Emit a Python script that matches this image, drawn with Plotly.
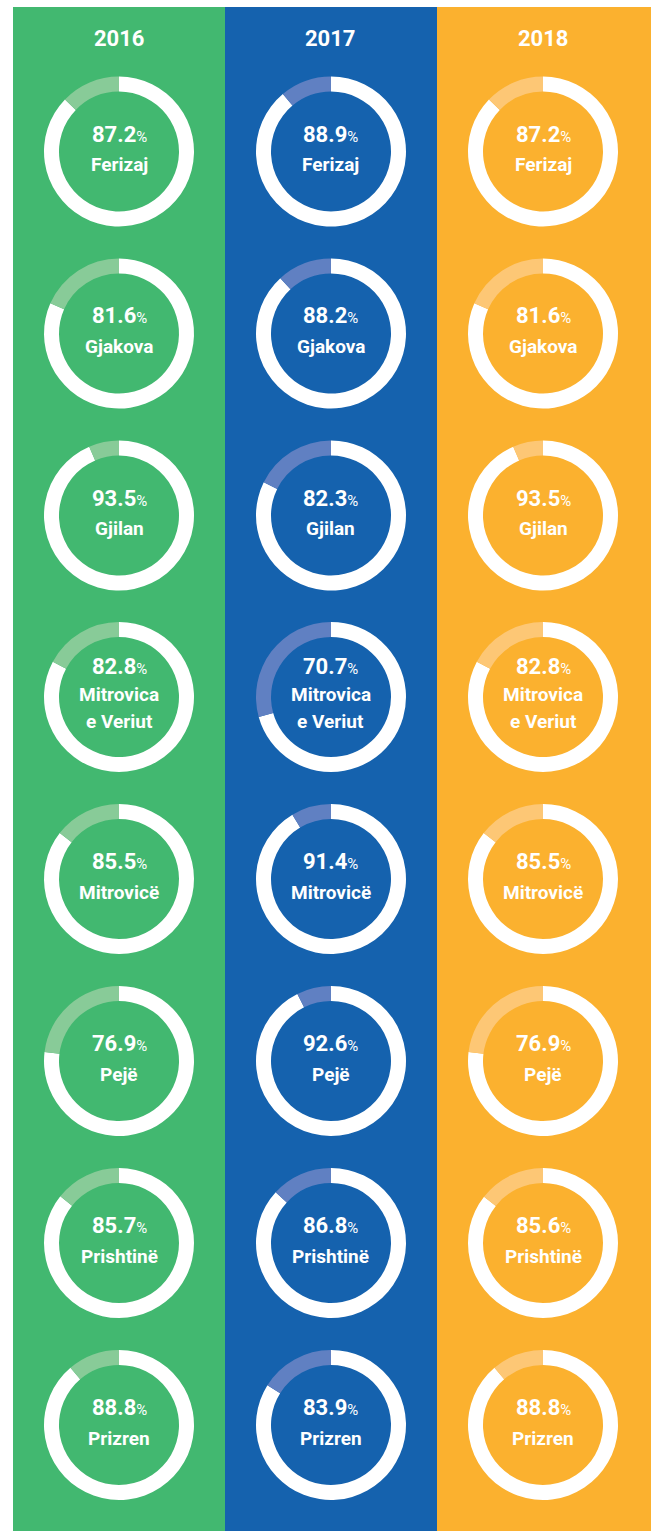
import plotly.graph_objects as go

years = ["2016", "2017", "2018"]
cities = ["Ferizaj", "Gjakova", "Gjilan", "Mitrovica<br>e Veriut", "Mitrovicë", "Pejë", "Prishtinë", "Prizren"]
values_2016 = [87.2, 81.6, 93.5, 82.8, 85.5, 76.9, 85.7, 88.8]
values_2017 = [88.9, 88.2, 82.3, 70.7, 91.4, 92.6, 86.8, 83.9]
values_2018 = [87.2, 81.6, 93.5, 82.8, 85.5, 76.9, 85.6, 88.8]
series = [values_2016, values_2017, values_2018]

bg_colors = ["#42B870", "#1562AE", "#FBB12F"]
light_colors = ["#88CB98", "#6080C2", "#FDC775"]

W, H = 651, 1531
col_left = [13, 225, 437]
col_right = [225, 437, 651]
col_cx = [119, 331, 543]
row_cy = [151.5, 333.5, 515.5, 697, 879, 1061, 1243, 1425]
R = 75

FONT = "Roboto, Liberation Sans, Arial, sans-serif"

fig = go.Figure()
shapes = []
annotations = []

for ci, (year, vals) in enumerate(zip(years, series)):
    shapes.append(dict(type="rect", xref="paper", yref="paper",
                       x0=col_left[ci] / W, x1=col_right[ci] / W,
                       y0=0, y1=1 - 7 / H,
                       fillcolor=bg_colors[ci], line=dict(width=0), layer="below"))
    annotations.append(dict(xref="paper", yref="paper",
                            x=col_cx[ci] / W, y=1 - 38.5 / H,
                            text="<b>" + year + "</b>", showarrow=False,
                            xanchor="center", yanchor="middle",
                            font=dict(family=FONT, size=22, color="white")))
    for ri, (city, v) in enumerate(zip(cities, vals)):
        cx, cy = col_cx[ci], row_cy[ri]
        fig.add_trace(go.Pie(
            values=[v, 100 - v],
            labels=["a", "b"],
            sort=False, direction="clockwise", rotation=0,
            hole=0.8, textinfo="none", hoverinfo="skip",
            marker=dict(colors=["#FFFFFF", light_colors[ci]], line=dict(width=0)),
            domain=dict(x=[(cx - R) / W, (cx + R) / W],
                        y=[1 - (cy + R) / H, 1 - (cy - R) / H]),
            showlegend=False,
        ))
        two_line = "<br>" in city
        if two_line:
            lines = city.split("<br>")
            offs = [-31, -3, 24.5]
        else:
            lines = [city]
            offs = [-17.5, 13]
        annotations.append(dict(xref="paper", yref="paper",
                                x=cx / W, y=1 - (cy + offs[0]) / H,
                                text="<b>%.1f</b><span style='font-size:15px'>%%</span>" % v,
                                showarrow=False, xanchor="center", yanchor="middle",
                                font=dict(family=FONT, size=22, color="white")))
        for li, line in enumerate(lines):
            annotations.append(dict(xref="paper", yref="paper",
                                    x=cx / W, y=1 - (cy + offs[li + 1]) / H,
                                    text="<b>" + line + "</b>",
                                    showarrow=False, xanchor="center", yanchor="middle",
                                    font=dict(family=FONT, size=19, color="white")))

fig.update_layout(width=W, height=H, margin=dict(l=0, r=0, t=0, b=0),
                  paper_bgcolor="white", plot_bgcolor="white",
                  shapes=shapes, annotations=annotations, showlegend=False)

fig.write_html("out.html", config={"displayModeBar": False},
               post_script="document.body.style.margin='0';document.body.style.overflow='hidden';")
